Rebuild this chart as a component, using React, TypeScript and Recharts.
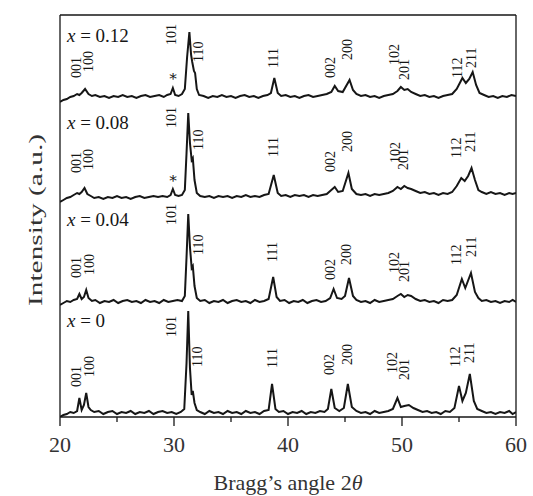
import React from "react";
import {
  ComposedChart,
  Line,
  Scatter,
  XAxis,
  YAxis,
  ReferenceLine,
} from "recharts";

const serif = "'Liberation Serif', 'Times New Roman', serif";
const ink = "#161616";

type Pt = [number, number];
type Mark = { text: string; at: number; h: number };

// vertical offset of each pattern (a.u.), bottom to top
const compositions = ["0", "0.04", "0.08", "0.12"];
const offsets = [4, 115, 219, 320];
const xTicks = [20, 25, 30, 35, 40, 45, 50, 55, 60];

// 2theta, intensity above baseline (a.u.)
const trace0: Pt[] = [
  [20.0, -4], [20.3, -2], [20.6, -1], [20.9, 1], [21.2, 0], [21.5, 2], [21.7, 15], [21.9, 3],
  [22.1, 8], [22.3, 20], [22.5, 6], [22.7, 3], [23.0, 1], [23.4, 2], [23.8, -1], [24.2, 1],
  [24.6, 2], [25.0, -1], [25.4, 1], [25.8, 0], [26.2, 2], [26.6, -1], [27.0, 1], [27.4, 0],
  [27.8, 2], [28.2, -1], [28.6, 1], [29.0, 2], [29.4, 0], [29.8, 1], [30.2, -1], [30.6, 1],
  [30.9, 4], [31.1, 50], [31.25, 102], [31.4, 45], [31.55, 18], [31.65, 22], [31.8, 10], [32.0, 3],
  [32.3, 1], [32.7, -1], [33.1, 2], [33.5, 0], [33.9, 1], [34.3, -1], [34.7, 2], [35.1, 0],
  [35.5, 1], [35.9, -1], [36.3, 2], [36.7, 0], [37.1, 1], [37.5, -1], [37.9, 2], [38.3, 3],
  [38.6, 29], [38.9, 4], [39.2, 1], [39.6, 2], [40.0, -1], [40.4, 1], [40.8, 0], [41.2, 2],
  [41.6, -1], [42.0, 1], [42.4, 0], [42.8, 2], [43.2, 1], [43.5, 4], [43.8, 24], [44.1, 5],
  [44.5, 2], [44.9, 5], [45.25, 29], [45.6, 6], [46.0, 2], [46.4, 0], [46.8, 1], [47.2, -1],
  [47.6, 2], [48.0, 0], [48.4, 1], [48.8, 2], [49.2, 4], [49.6, 15], [49.9, 6], [50.2, 7],
  [50.6, 8], [51.0, 5], [51.4, 3], [51.8, 1], [52.2, 2], [52.6, 0], [53.0, 1], [53.4, -1],
  [53.8, 2], [54.2, 1], [54.6, 5], [55.0, 27], [55.3, 12], [55.6, 20], [55.95, 39], [56.3, 12],
  [56.6, 4], [57.0, 2], [57.4, 0], [57.8, 1], [58.2, -1], [58.6, 1], [59.0, 0], [59.4, 2],
  [59.7, -1], [60.0, 1],
];

const trace004: Pt[] = [
  [20.0, -3], [20.3, -1], [20.6, 1], [20.9, 0], [21.2, 2], [21.5, 3], [21.7, 8], [21.9, 3],
  [22.1, 5], [22.3, 12], [22.5, 4], [22.8, 1], [23.1, 2], [23.5, -1], [23.9, 1], [24.3, 0],
  [24.7, 2], [25.1, -1], [25.5, 1], [25.9, 2], [26.3, 0], [26.7, 1], [27.1, -1], [27.5, 2],
  [27.9, 0], [28.3, 1], [28.7, -1], [29.1, 2], [29.5, 0], [29.9, 1], [30.3, 2], [30.7, 1],
  [30.95, 6], [31.1, 45], [31.25, 88], [31.4, 55], [31.55, 34], [31.65, 36], [31.8, 16], [32.0, 4],
  [32.3, 1], [32.7, 2], [33.1, -1], [33.5, 1], [33.9, 0], [34.3, 2], [34.7, -1], [35.1, 1],
  [35.5, 2], [35.9, 0], [36.3, 1], [36.7, -1], [37.1, 2], [37.5, 0], [37.9, 1], [38.3, 3],
  [38.7, 25], [39.0, 5], [39.3, 1], [39.7, 2], [40.1, -1], [40.5, 1], [40.9, 0], [41.3, 2],
  [41.7, -1], [42.1, 1], [42.5, 2], [42.9, 0], [43.3, 1], [43.7, 4], [44.0, 13], [44.3, 4],
  [44.7, 3], [45.0, 6], [45.35, 24], [45.7, 6], [46.0, 2], [46.4, 0], [46.8, 1], [47.2, -1],
  [47.6, 2], [48.0, 0], [48.4, 1], [48.8, 2], [49.2, 3], [49.6, 6], [49.9, 8], [50.2, 5],
  [50.5, 7], [50.8, 6], [51.2, 3], [51.6, 1], [52.0, 2], [52.4, 0], [52.8, 1], [53.2, -1],
  [53.6, 2], [54.0, 1], [54.4, 2], [54.8, 7], [55.25, 23], [55.55, 14], [56.05, 29], [56.4, 10],
  [56.7, 4], [57.0, 1], [57.4, 2], [57.8, 0], [58.2, 1], [58.6, -1], [59.0, 1], [59.4, 0],
  [59.7, 2], [60.0, 0],
];

const trace008: Pt[] = [
  [20.0, -4], [20.3, -2], [20.6, 0], [20.9, 1], [21.2, 3], [21.5, 5], [21.7, 4], [21.9, 6],
  [22.15, 10], [22.4, 4], [22.7, 2], [23.0, 0], [23.4, 1], [23.8, -1], [24.2, 1], [24.6, 0],
  [25.0, 2], [25.4, 0], [25.8, 1], [26.2, -1], [26.6, 1], [27.0, 2], [27.4, 0], [27.8, 1],
  [28.2, 2], [28.6, 1], [29.0, 2], [29.4, 1], [29.7, 3], [29.9, 9], [30.1, 3], [30.4, 2],
  [30.7, 3], [30.95, 8], [31.1, 45], [31.25, 85], [31.4, 55], [31.55, 38], [31.65, 40], [31.8, 18],
  [32.0, 5], [32.3, 2], [32.7, 1], [33.1, 2], [33.5, 0], [33.9, 2], [34.3, 1], [34.7, 2],
  [35.1, 0], [35.5, 2], [35.9, 1], [36.3, 3], [36.7, 1], [37.1, 2], [37.5, 1], [37.9, 3],
  [38.3, 4], [38.75, 23], [39.1, 5], [39.4, 2], [39.8, 3], [40.2, 1], [40.6, 3], [41.0, 2],
  [41.4, 3], [41.8, 1], [42.2, 3], [42.6, 2], [43.0, 3], [43.4, 4], [43.8, 8], [44.1, 11],
  [44.4, 6], [44.8, 7], [45.3, 25], [45.6, 9], [46.0, 4], [46.4, 3], [46.8, 4], [47.2, 2],
  [47.6, 4], [48.0, 3], [48.4, 4], [48.8, 5], [49.2, 7], [49.6, 11], [49.9, 9], [50.2, 12],
  [50.5, 10], [50.8, 9], [51.2, 7], [51.6, 5], [52.0, 6], [52.4, 4], [52.8, 5], [53.2, 3],
  [53.6, 5], [54.0, 4], [54.4, 6], [54.8, 12], [55.2, 20], [55.5, 17], [55.8, 22], [56.1, 30],
  [56.4, 18], [56.7, 8], [57.0, 6], [57.4, 4], [57.8, 6], [58.2, 4], [58.6, 5], [59.0, 3],
  [59.4, 5], [59.7, 4], [60.0, 5],
];

const trace012: Pt[] = [
  [20.0, -5], [20.3, -3], [20.6, -2], [20.9, 0], [21.2, 1], [21.5, 3], [21.7, 2], [21.9, 4],
  [22.2, 8], [22.5, 3], [22.8, 1], [23.1, 2], [23.5, 0], [23.9, 1], [24.3, -1], [24.7, 1],
  [25.1, 0], [25.5, 2], [25.9, 0], [26.3, 1], [26.7, -1], [27.1, 1], [27.5, 2], [27.9, 0],
  [28.3, 1], [28.7, 2], [29.1, 0], [29.4, 2], [29.7, 3], [29.9, 9], [30.1, 2], [30.4, 1],
  [30.7, 3], [30.95, 8], [31.15, 40], [31.35, 65], [31.5, 42], [31.6, 35], [31.75, 26], [31.85, 24],
  [32.0, 8], [32.2, 2], [32.6, 1], [33.0, -1], [33.4, 1], [33.8, 0], [34.2, 2], [34.6, 0],
  [35.0, 1], [35.4, -1], [35.8, 1], [36.2, 2], [36.6, 0], [37.0, 1], [37.4, -1], [37.8, 1],
  [38.2, 2], [38.5, 4], [38.8, 19], [39.1, 4], [39.4, 1], [39.8, 2], [40.2, 0], [40.6, 1],
  [41.0, -1], [41.4, 1], [41.8, 2], [42.2, 0], [42.6, 1], [43.0, 2], [43.4, 3], [43.8, 5],
  [44.1, 11], [44.4, 6], [44.8, 5], [45.4, 17], [45.7, 7], [46.0, 3], [46.4, 1], [46.8, 2],
  [47.2, 0], [47.6, 1], [48.0, -1], [48.4, 1], [48.8, 2], [49.2, 3], [49.6, 6], [49.9, 10],
  [50.2, 7], [50.5, 8], [50.8, 5], [51.2, 3], [51.6, 1], [52.0, 2], [52.4, 0], [52.8, 1],
  [53.2, -1], [53.6, 1], [54.0, 2], [54.4, 3], [54.8, 8], [55.3, 19], [55.6, 14], [55.9, 18],
  [56.2, 25], [56.5, 12], [56.8, 4], [57.2, 2], [57.6, 0], [58.0, 1], [58.4, -1], [58.8, 1],
  [59.2, 0], [59.6, 2], [60.0, 1],
];

const traces = [trace0, trace004, trace008, trace012];

// reflection labels: 2theta of the label, height of its foot (a.u.)
const marks0: Mark[] = [
  { text: "001", at: 21.49, h: 30 }, { text: "100", at: 22.63, h: 40 },
  { text: "101", at: 29.82, h: 80 }, { text: "110", at: 32.02, h: 50 },
  { text: "111", at: 38.6, h: 49 }, { text: "002", at: 43.68, h: 42 },
  { text: "200", at: 45.18, h: 52 }, { text: "102", at: 49.21, h: 44 },
  { text: "201", at: 50.26, h: 37 }, { text: "112", at: 54.65, h: 50 },
  { text: "211", at: 55.96, h: 54 },
];
const marks004: Mark[] = [
  { text: "001", at: 21.49, h: 139 }, { text: "100", at: 22.63, h: 142 },
  { text: "101", at: 29.82, h: 192 }, { text: "110", at: 32.11, h: 162 },
  { text: "111", at: 38.68, h: 155 }, { text: "002", at: 43.77, h: 137 },
  { text: "200", at: 45.09, h: 152 }, { text: "102", at: 49.3, h: 144 },
  { text: "201", at: 50.18, h: 135 }, { text: "112", at: 54.74, h: 152 },
  { text: "211", at: 56.14, h: 160 },
];
const marks008: Mark[] = [
  { text: "001", at: 21.49, h: 244 }, { text: "100", at: 22.54, h: 247 },
  { text: "101", at: 29.82, h: 289 }, { text: "*", at: 29.91, h: 239 },
  { text: "110", at: 32.19, h: 267 }, { text: "111", at: 38.77, h: 260 },
  { text: "002", at: 43.77, h: 245 }, { text: "200", at: 45.18, h: 265 },
  { text: "102", at: 49.39, h: 254 }, { text: "201", at: 50.09, h: 247 },
  { text: "112", at: 54.74, h: 259 }, { text: "211", at: 56.05, h: 265 },
];
const marks012: Mark[] = [
  { text: "001", at: 21.49, h: 339 }, { text: "100", at: 22.54, h: 345 },
  { text: "101", at: 29.82, h: 372 }, { text: "*", at: 29.91, h: 341 },
  { text: "110", at: 32.19, h: 355 }, { text: "111", at: 38.77, h: 349 },
  { text: "002", at: 43.77, h: 339 }, { text: "200", at: 45.18, h: 357 },
  { text: "102", at: 49.3, h: 352 }, { text: "201", at: 50.18, h: 337 },
  { text: "112", at: 54.91, h: 339 }, { text: "211", at: 56.14, h: 349 },
];
// "x = ..." captions: left edge in 2theta, middle height
const captionAt = 20.61;
const captionH = [97, 198, 295, 382];

const lineData = traces.map((t, i) => t.map(([x, v]) => ({ x, y: v + offsets[i] })));
const markData = [...marks0, ...marks004, ...marks008, ...marks012].map((m) => ({
  x: m.at,
  y: m.h,
  text: m.text,
}));
const captionData = compositions.map((c, i) => ({ x: captionAt, y: captionH[i], text: c }));

const MarkShape = (props: any) => {
  const { cx, cy, payload } = props;
  if (payload.text === "*") {
    return (
      <text x={cx} y={cy + 5} textAnchor="middle" fontSize={15} fontFamily="'DejaVu Serif', serif" style={{ fill: ink }}>
        {"\u2217"}
      </text>
    );
  }
  return (
    <text
      x={cx}
      y={cy}
      transform={`rotate(-90 ${cx} ${cy})`}
      dominantBaseline="central"
      fontSize={14}
      fontFamily={serif}
      fill={ink}
    >
      {payload.text}
    </text>
  );
};

const CaptionShape = (props: any) => {
  const { cx, cy, payload } = props;
  return (
    <text x={cx} y={cy} dominantBaseline="central" fontSize={19} fontFamily={serif} fill={ink}>
      <tspan fontStyle="italic">x</tspan> = {payload.text}
    </text>
  );
};

const XTick = (props: any) => {
  const { x, y, payload } = props;
  const major = payload.value % 10 === 0;
  return (
    <g>
      <line x1={x} x2={x} y1={y} y2={y + (major ? 9 : 5)} stroke={ink} strokeWidth={1.3} />
      {major && (
        <text x={x} y={y + 35} textAnchor="middle" fontSize={22} fontFamily={serif} fill="#333">
          {payload.value}
        </text>
      )}
    </g>
  );
};

const YTitle = (p: any) => {
  const vb = p.viewBox;
  const cx = vb.x - 25;
  const cy = vb.y + vb.height / 2 + 4;
  return (
    <text
      x={cx}
      y={cy}
      transform={`rotate(-90 ${cx} ${cy})`}
      textAnchor="middle"
      dominantBaseline="central"
      fontSize={19}
      fontFamily={serif}
      fill="#333"
      textLength={172}
      lengthAdjust="spacingAndGlyphs"
    >
      Intensity (a.u.)
    </text>
  );
};

export default function App() {
  return (
    <>
      <style>{"html,body{margin:0;overflow:hidden}"}</style>
      <ComposedChart
        width={533}
        height={496}
        margin={{ top: 15, right: 17, left: 60, bottom: 0 }}
      >
        <XAxis
          dataKey="x"
          type="number"
          domain={[20, 60]}
          ticks={xTicks}
          tick={<XTick />}
          tickLine={false}
          tickSize={0}
          tickMargin={0}
          height={79}
          axisLine={{ stroke: ink, strokeWidth: 1.3 }}
          allowDataOverflow
          label={{
            content: (p: any) => {
              const vb = p.viewBox;
              return (
                <text x={vb.x + vb.width / 2} y={vb.y + 73} textAnchor="middle" fontSize={22} fontFamily={serif} fill="#333">
                  Bragg’s angle 2<tspan fontStyle="italic">θ</tspan>
                </text>
              );
            },
          }}
        />
        <YAxis dataKey="y" type="number" domain={[0, 402]} hide allowDataOverflow />
        <ReferenceLine x={20} stroke={ink} strokeWidth={1.3} label={{ content: YTitle }} />
        <ReferenceLine y={402} stroke={ink} strokeWidth={1.3} />
        <ReferenceLine x={60} stroke={ink} strokeWidth={1.3} />
        {lineData.map((d, i) => (
          <Line
            key={compositions[i]}
            data={d}
            dataKey="y"
            type="linear"
            stroke={ink}
            strokeWidth={2}
            dot={false}
            isAnimationActive={false}
          />
        ))}
        <Scatter data={markData} dataKey="y" shape={<MarkShape />} isAnimationActive={false} />
        <Scatter data={captionData} dataKey="y" shape={<CaptionShape />} isAnimationActive={false} />
      </ComposedChart>
    </>
  );
}
